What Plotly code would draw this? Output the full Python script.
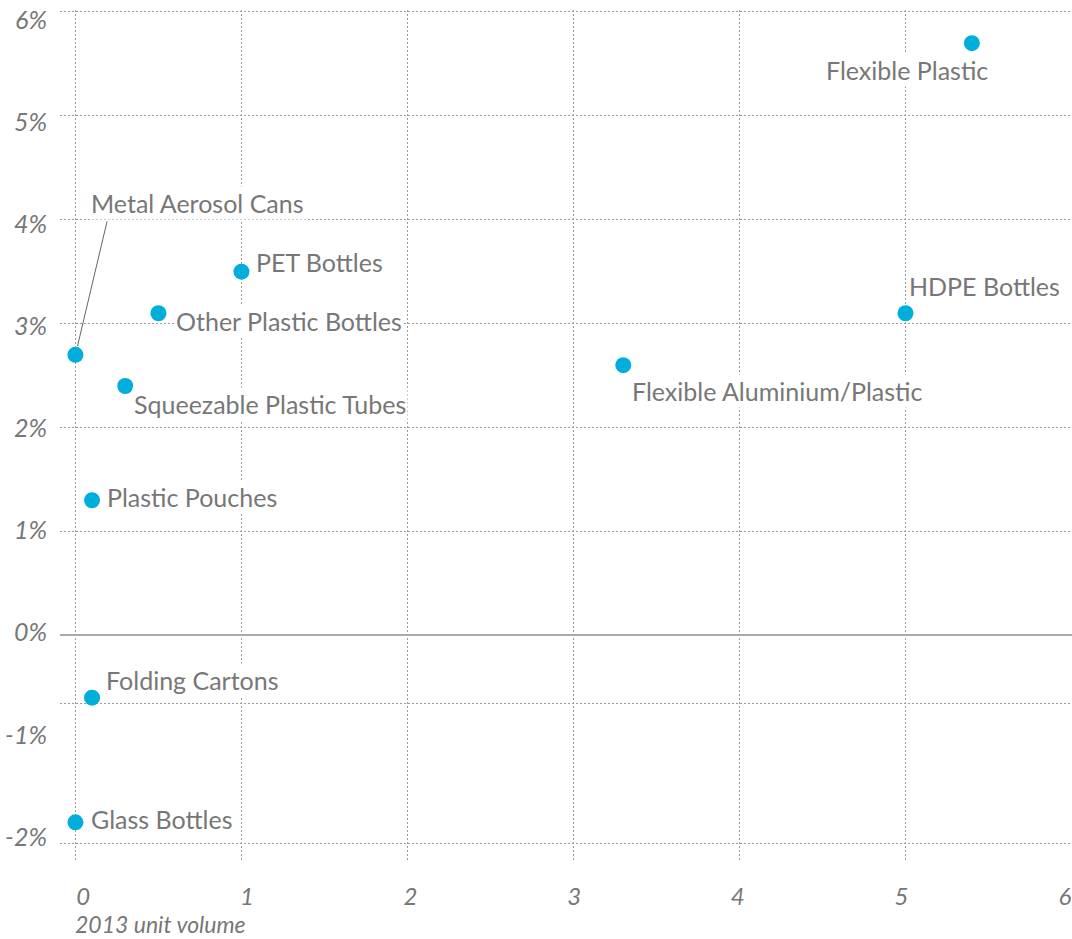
import plotly.graph_objects as go

# ---- data ----
names = ["Flexible Plastic", "HDPE Bottles", "Flexible Aluminium/Plastic", "PET Bottles",
         "Other Plastic Bottles", "Metal Aerosol Cans", "Squeezable Plastic Tubes",
         "Plastic Pouches", "Folding Cartons", "Glass Bottles"]
unit_volume = [5.4, 5.0, 3.3, 1.0, 0.5, 0.0, 0.3, 0.1, 0.1, 0.0]
growth_pct = [5.7, 3.1, 2.6, 3.5, 3.1, 2.7, 2.4, 1.3, -0.6, -1.8]

x_tick_vals = [0, 1, 2, 3, 4, 5, 6]
x_tick_text = ["0", "1", "2", "3", "4", "5", "6"]
y_tick_vals = [6, 5, 4, 3, 2, 1, 0, -1, -2]
y_tick_text = ["6%", "5%", "4%", "3%", "2%", "1%", "0%", "-1%", "-2%"]
y_grid_vals = [6, 5, 4, 3, 2, 1, 0, -0.66, -2]
x_title = "2013 unit volume"

# ---- styles ----
FONT = "Lato"
TXT = "#777777"
GRID = "#9a9a9a"
DOT = "#00AEDB"

# label placement: (xanchor, xshift, yshift)
label_pos = {
    "Flexible Plastic": ("right", 18, -27),
    "HDPE Bottles": ("left", 2, 27),
    "Flexible Aluminium/Plastic": ("left", 7, -26),
    "PET Bottles": ("left", 13, 10),
    "Other Plastic Bottles": ("left", 16, -8),
    "Metal Aerosol Cans": ("left", 14, 152),
    "Squeezable Plastic Tubes": ("left", 7, -18),
    "Plastic Pouches": ("left", 13, 3),
    "Folding Cartons": ("left", 12, 18),
    "Glass Bottles": ("left", 14, 3),
}

fig = go.Figure()
fig.add_trace(go.Scatter(
    x=unit_volume, y=growth_pct, mode="markers",
    marker=dict(color=DOT, size=16, line=dict(width=0)),
    hoverinfo="skip", showlegend=False, cliponaxis=False,
))
fig.add_trace(go.Scatter(x=[None], y=[None], xaxis="x2", yaxis="y2",
                         showlegend=False, hoverinfo="skip"))

annotations = []
for n, xv, yv in zip(names, unit_volume, growth_pct):
    xa, xs, ys = label_pos[n]
    annotations.append(dict(
        x=xv, y=yv, xref="x", yref="y", text=n, showarrow=False,
        xanchor=xa, yanchor="middle", xshift=xs, yshift=ys,
        font=dict(family=FONT, size=25, color=TXT),
        bgcolor="white", borderpad=1,
    ))
# leader line for Metal Aerosol Cans
i = names.index("Metal Aerosol Cans")
annotations.append(dict(
    x=unit_volume[i], y=growth_pct[i], xref="x", yref="y", text="",
    showarrow=True, arrowhead=0, arrowwidth=1, arrowcolor="#666666",
    ax=32, ay=-135, standoff=9,
))
annotations.append(dict(
    x=0, y=0, xref="x", yref="paper", text=x_title, showarrow=False,
    xanchor="left", yanchor="middle", yshift=-62, xshift=-2,
    font=dict(family=FONT, size=23, color=TXT, style="italic"),
))

tick_font = dict(family=FONT, size=25, color=TXT, style="italic")

fig.update_layout(
    width=1072, height=939,
    margin=dict(l=60, r=0, t=10, b=77, autoexpand=False),
    paper_bgcolor="white", plot_bgcolor="white",
    font=dict(family=FONT, color=TXT),
    annotations=annotations,
    xaxis=dict(
        range=[-0.093, 6.003], tickvals=x_tick_vals, showticklabels=False,
        showgrid=True, gridcolor=GRID, gridwidth=1, griddash="2px,2px",
        zeroline=False, showline=False, ticks="", automargin=False,
    ),
    xaxis2=dict(
        overlaying="x", side="bottom", anchor="y",
        range=[-0.1424, 6.0428], tickvals=x_tick_vals, ticktext=x_tick_text,
        showgrid=False, zeroline=False, showline=False, ticks="",
        tickfont=dict(family=FONT, size=24, color=TXT, style="italic"),
        ticklabelstandoff=18, ticklabeloverflow="allow",
        automargin=False,
    ),
    yaxis=dict(
        range=[-2.182, 6.019], tickvals=y_grid_vals, showticklabels=False,
        showgrid=True, gridcolor=GRID, gridwidth=1, griddash="2px,2px",
        zeroline=True, zerolinecolor="#aaaaaa", zerolinewidth=1.5,
        showline=False, ticks="", automargin=False,
    ),
    yaxis2=dict(
        overlaying="y", side="left", anchor="x",
        range=[-2.245, 6.098], tickvals=y_tick_vals, ticktext=y_tick_text,
        showgrid=False, zeroline=False, showline=False, ticks="",
        tickfont=tick_font, ticklabelstandoff=12, ticklabeloverflow="allow",
        automargin=False,
    ),
)

fig.write_html("out.html", config={"displayModeBar": False},
               post_script="document.body.style.margin='0';")
